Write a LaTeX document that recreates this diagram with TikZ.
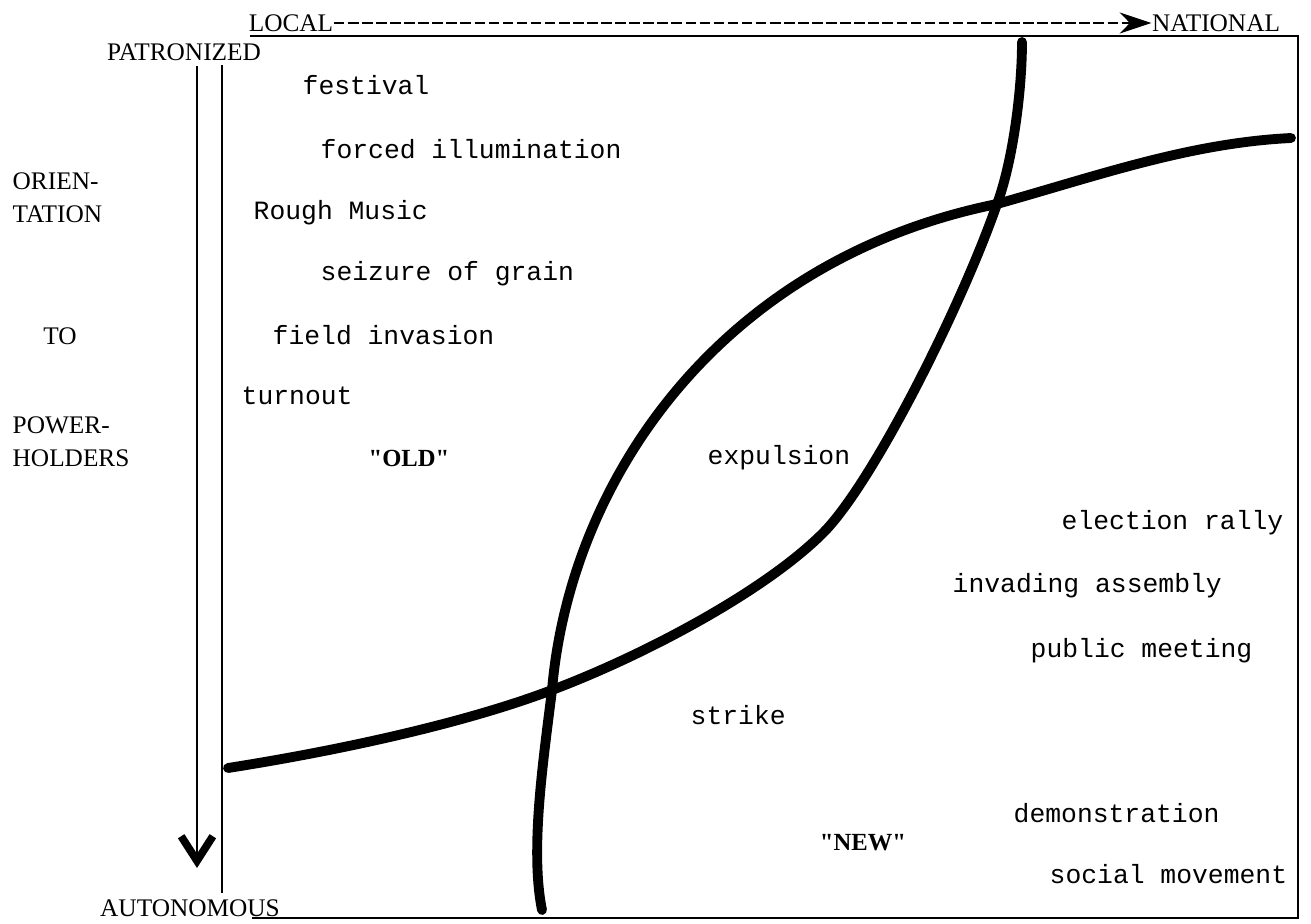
\documentclass[tikz,border=0pt]{standalone}
\usepackage{fontspec}
\setmainfont{Liberation Serif}
\setmonofont{Liberation Mono}
\usetikzlibrary{arrows.meta}
\usetikzlibrary{positioning}

\tikzset{
  act/.style={anchor=west, inner sep=0pt, font=\ttfamily\fontsize{7.5}{9}\selectfont},
  axislabel/.style={inner sep=0pt, font=\fontsize{7.2}{9.4}\selectfont},
  era/.style={inner sep=0pt, font=\bfseries\fontsize{7}{8}\selectfont},
  boundary/.style={line width=2.8pt, line cap=round, line join=round},
  frame/.style={line width=0.7pt}
}

\begin{document}
\begin{tikzpicture}[x=0.01cm, y=-0.01cm]
    \useasboundingbox (0,0) rectangle (1311,924);

    % axes
    \node[axislabel] (local) at (291,23) {LOCAL};
    \node[axislabel] (national) at (1216,23) {NATIONAL};
    \draw [line width=0.6pt, dash pattern=on 3pt off 1pt, -{Stealth[length=9pt,width=6pt]}] (local.east) -- (national.west);

    \node[axislabel] (patron) at (184,52) {PATRONIZED};
    \node[axislabel] (auto) at (190,908) {AUTONOMOUS};
    \coordinate (arrtop) at (197,66);
    \coordinate (arrbot) at (197,868);
    \draw [line width=0.7pt, -{Straight Barb[length=7pt,width=9pt,line width=2.2pt]}] (arrtop) -- (arrbot);

    \node[axislabel, anchor=west, align=left] (orient) at (12,198) {ORIEN-\\TATION};
    \node[axislabel] (to) at (60,336) {TO};
    \node[axislabel, anchor=west, align=left] (holders) at (12,442) {POWER-\\HOLDERS};

    % frame
    \draw [frame] (250,36) -- (1298,36) -- (1298,918) -- (252,918);
    \draw [frame] (222,65) -- (222,893);

    % boundaries between old and new
    \coordinate (lowx) at (552,690);
    \coordinate (highx) at (997,204);
    \draw [boundary] (228,768) .. controls (330,752) and (460,725) .. (lowx)
        .. controls (640,657) and (763,593) .. (823,533)
        .. controls (873,483) and (962,305) .. (highx)
        .. controls (1013,161) and (1022,90) .. (1022,42);
    \draw [boundary] (542,910) .. controls (530,850) and (543,763) .. (lowx)
        .. controls (570,480) and (720,260) .. (highx)
        .. controls (1100,175) and (1190,143) .. (1291,138);

    % forms of action
    \node[act] (festival) at (302,85) {festival};
    \node[act] (illum) at (320,149) {forced illumination};
    \node[act] (rough) at (253,213) {Rough Music};
    \node[act] (grain) at (320,274) {seizure of grain};
    \node[act] (field) at (272,335) {field invasion};
    \node[act] (turnout) at (241,396) {turnout};
    \node[act] (expul) at (707,458) {expulsion};
    \node[act, anchor=east] (rally) at (1284,523) {election rally};
    \node[act] (invading) at (952,586) {invading assembly};
    \node[act] (meeting) at (1030,651) {public meeting};
    \node[act] (strike) at (690,715) {strike};
    \node[act] (demo) at (1013,813) {demonstration};
    \node[act] (movement) at (1049,874) {social movement};

    \node[era] (old) at (409,458) {\textquotedbl OLD\textquotedbl};
    \node[era] (new) at (863,843) {\textquotedbl NEW\textquotedbl};
\end{tikzpicture}
\end{document}
